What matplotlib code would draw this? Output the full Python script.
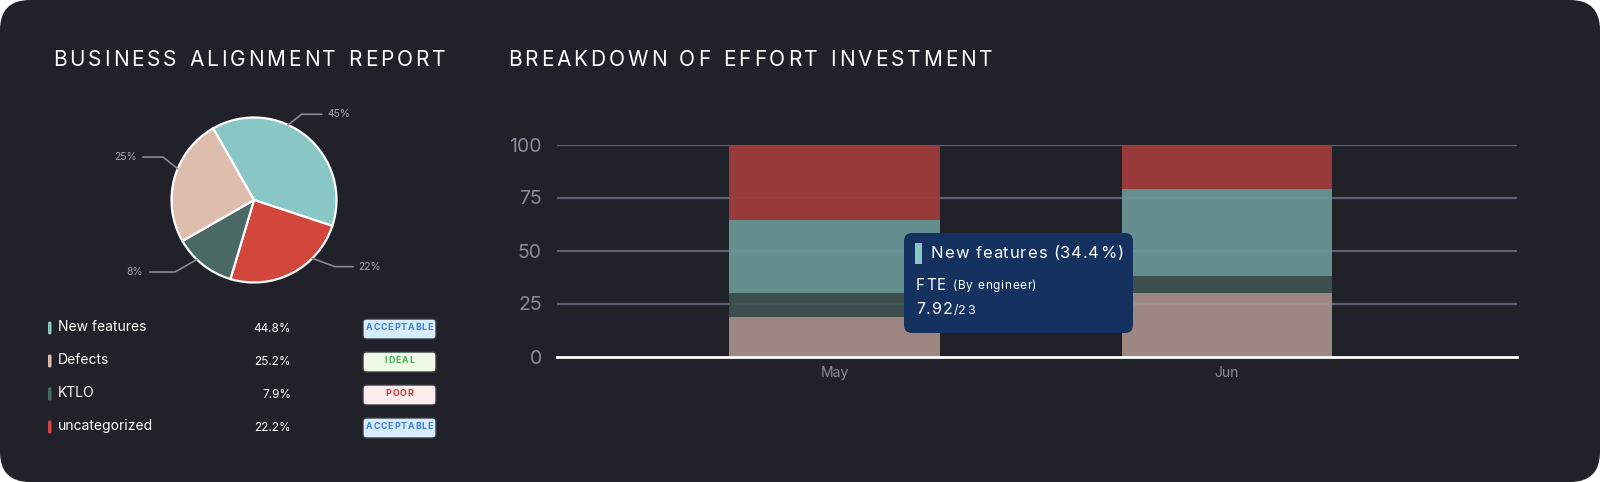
import numpy as np
import matplotlib
matplotlib.use("Agg")
import matplotlib.pyplot as plt
from matplotlib.patches import FancyBboxPatch, Rectangle

plt.rcParams['font.family'] = ['Inter', 'DejaVu Sans']

# ---- data ----
categories = ['New features', 'Defects', 'KTLO', 'uncategorized']
share_pct = [44.8, 25.2, 7.9, 22.2]
ratings = ['ACCEPTABLE', 'IDEAL', 'POOR', 'ACCEPTABLE']

# pie wedges as drawn (clockwise from top-left): New features, uncategorized, KTLO, Defects
pie_order = ['New features', 'uncategorized', 'KTLO', 'Defects']
pie_sizes = [38.3, 24.5, 12.1, 25.0]
pie_labels = ['45%', '22%', '8%', '25%']

months = ['May', 'Jun']
defects = [18.4, 30.0]
ktlo = [11.6, 7.9]
new_features = [34.4, 41.2]
uncategorized = [35.6, 20.9]

tip_series = 'New features'
tip_pct = 34.4
tip_fte = 7.92
tip_total = 23

# ---- style ----
W, H = 1600, 482
BG = '#212129'
GRAY = '#8b8c9a'
pie_colors = {'New features': '#89c6c6', 'Defects': '#dfbdae',
              'KTLO': '#4a6964', 'uncategorized': '#d2463c'}
badge_style = {'ACCEPTABLE': ('#d7edff', '#3b7fd9'),
               'IDEAL': ('#effbe7', '#4caf50'),
               'POOR': ('#ffeded', '#d9302c')}

fig = plt.figure(figsize=(W / 100, H / 100), dpi=100, facecolor='white')
renderer = fig.canvas.get_renderer()


def fx(x):
    return x / W


def fy(y):
    return 1 - y / H


def spaced_text(x, y, s, track, ha='left', **kw):
    # draw text char by char with extra letter spacing (pixels)
    widths = []
    for ch in s:
        t = fig.text(0, 0, ch if ch != ' ' else 'n', **kw)
        widths.append(t.get_window_extent(renderer).width * (0.55 if ch == ' ' else 1))
        t.remove()
    total = sum(widths) + track * (len(s) - 1)
    if ha == 'right':
        x0 = x - total
    elif ha == 'center':
        x0 = x - total / 2
    else:
        x0 = x
    for ch, w in zip(s, widths):
        if ch != ' ':
            fig.text(fx(x0), fy(y), ch, ha='left', va='center', **kw)
        x0 += w + track
    return x0


# card background
card = FancyBboxPatch((0, 0), W, H, boxstyle='round,pad=0,rounding_size=30',
                      transform=None, facecolor=BG, edgecolor='none', zorder=-5)
fig.patches.append(card)

# titles
spaced_text(53, 60, 'BUSINESS ALIGNMENT REPORT', 2.9, color='white', fontsize=15)
spaced_text(508, 60, 'BREAKDOWN OF EFFORT INVESTMENT', 2.9, color='white', fontsize=15)

# ---- pie ----
cx, cy, r = 254, 200, 82.5
pax = fig.add_axes([fx(cx - r), fy(cy + r), 2 * r / W, 2 * r / H])
pax.pie(pie_sizes, colors=[pie_colors[c] for c in pie_order], startangle=119.7,
        counterclock=False, radius=1,
        wedgeprops=dict(edgecolor='white', linewidth=1.6))
pax.set_xlim(-1, 1)
pax.set_ylim(-1, 1)
pax.set_aspect('equal')
pax.axis('off')

# label leaders: (anchor angle, elbow, end of line, text x, ha)
leaders = [
    (65.6, (0.578, 1.039), 0.82, 0.885, 'left'),
    (-45.0, (0.982, -0.808), 1.20, 1.26, 'left'),
    (-133.8, (-0.958, -0.873), -1.261, -1.345, 'right'),
    (157.7, (-1.103, 0.521), -1.345, -1.418, 'right'),
]
for lab, (ang, elbow, xend, xt, ha) in zip(pie_labels, leaders):
    a = np.deg2rad(ang)
    ax0, ay0 = np.cos(a), np.sin(a)
    pax.plot([ax0, elbow[0], xend], [ay0, elbow[1], elbow[1]], color='#8a8b95',
             lw=1.2, clip_on=False)
    pax.text(xt, elbow[1], lab, ha=ha, va='center', color='#a3a4ae', fontsize=7.5,
             clip_on=False)

# ---- legend table ----
row_y = [328, 361, 394, 427]
for name, pct, rating, y in zip(categories, share_pct, ratings, row_y):
    fig.patches.append(FancyBboxPatch((48, H - y - 6.5), 3.5, 13,
                                      boxstyle='round,pad=0,rounding_size=1.5',
                                      transform=None, facecolor=pie_colors[name],
                                      edgecolor='none'))
    fig.text(fx(58), fy(y - 1), name, color='white', fontsize=10, va='center')
    fig.text(fx(291), fy(y + 1), f'{pct}%', color='white', fontsize=8.5,
             va='center', ha='right')
    fc, tc = badge_style[rating]
    fig.patches.append(FancyBboxPatch((363, H - y - 11), 73, 20,
                                      boxstyle='round,pad=0,rounding_size=3.5',
                                      transform=None, facecolor=fc,
                                      edgecolor='#3a3b44', linewidth=1))
    spaced_text(399.5, y - 0.5, rating, 0.9, ha='center', color=tc,
                fontsize=6.3, fontweight='bold')

# ---- stacked bars ----
ax = fig.add_axes([fx(557), fy(356.5), 960 / W, 212 / H])
ax.set_facecolor('none')
x = np.arange(len(months))
ax.set_xlim(-0.707, 1.739)
ax.set_ylim(0, 100)
for g in [25, 50, 75, 100]:
    ax.axhline(g, color='#5d5f72', lw=1.6, zorder=0)
series = [(defects, 'Defects', '#a8908a'), (ktlo, 'KTLO', '#3f5250'),
          (new_features, 'New features', '#6b9898'),
          (uncategorized, 'uncategorized', '#a23d3c')]
bottom = np.zeros(len(months))
for vals, name, col in series:
    ax.bar(x, vals, width=0.537, bottom=bottom, color=col, alpha=0.93,
           linewidth=0, zorder=2)
    bottom += np.array(vals)
ax.axhline(0, color='white', lw=2, zorder=3, clip_on=False)
for s in ax.spines.values():
    s.set_visible(False)
ax.set_yticks([0, 25, 50, 75, 100])
ax.tick_params(axis='y', length=0, pad=11, labelsize=14, labelcolor=GRAY)
ax.set_xticks(x)
ax.set_xticklabels(months)
ax.tick_params(axis='x', length=0, pad=7, labelsize=10, labelcolor=GRAY)

# ---- tooltip ----
fig.patches.append(FancyBboxPatch((904, H - 333), 229, 100,
                                  boxstyle='round,pad=0,rounding_size=8',
                                  transform=None, facecolor='#14315f',
                                  edgecolor='none', zorder=5))
fig.patches.append(Rectangle((915, H - 264), 7, 21, transform=None,
                             facecolor=pie_colors[tip_series], edgecolor='none',
                             zorder=6))
spaced_text(931, 254, f'{tip_series} ({tip_pct}%)', 0.8, color='white',
            fontsize=12, zorder=7)
xe = spaced_text(916, 285, 'FTE', 1.0, color='white', fontsize=11, zorder=7)
spaced_text(xe + 6, 286, '(By engineer)', 0.6, color='white', fontsize=8.5, zorder=7)
xe = spaced_text(916, 310, f'{tip_fte}', 1.0, color='white', fontsize=11.5, zorder=7)
spaced_text(xe, 311, f'/{tip_total}', 0.6, color='white', fontsize=9, zorder=7)

fig.savefig('out.png', dpi=100, facecolor='white')
